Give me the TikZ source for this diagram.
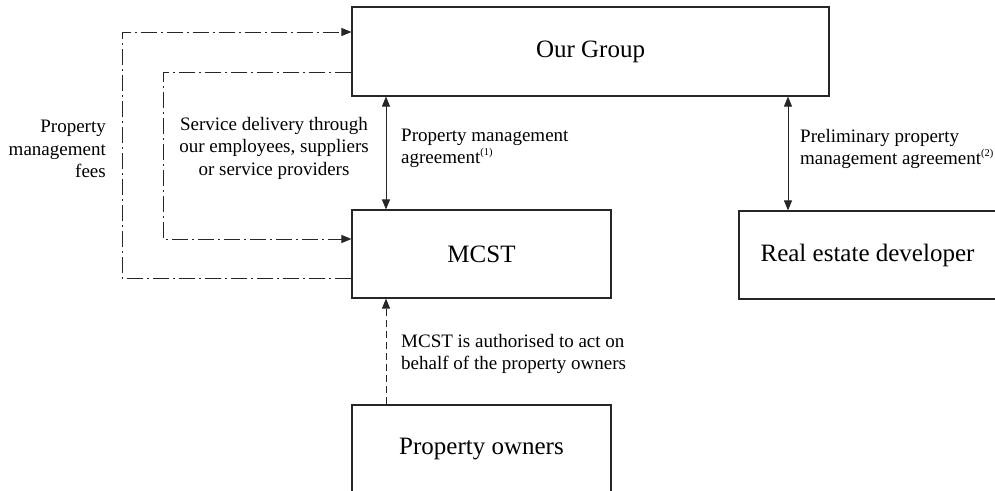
\documentclass[tikz,border=0pt]{standalone}
\usepackage{fontspec}
\setmainfont{Liberation Serif}
\usetikzlibrary{arrows.meta,calc}

\newcommand{\notemark}[1]{\raisebox{0.42em}{\fontsize{10.5}{11}\selectfont(#1)}}

\begin{document}
\begin{tikzpicture}[x=1pt,y=-1pt,
  entity/.style={draw=black!85, line width=1.1pt, inner sep=0pt,
    font=\fontsize{25}{30}\selectfont, text=black},
  lbl/.style={inner sep=0pt, font=\fontsize{19}{22.5}\selectfont, text=black},
  tip/.style={-{Triangle[length=10pt,width=8pt]}},
  tips/.style={{Triangle[length=10pt,width=8pt]}-{Triangle[length=10pt,width=8pt]}},
  link/.style={draw=black!85, line width=0.9pt},
  dashdot/.style={link, dash pattern=on 16pt off 4pt on 2pt off 4pt},
  dashline/.style={link, dash pattern=on 7pt off 4pt}]

\useasboundingbox (0,0) rectangle (995,490);
\clip (0,0) rectangle (995,490);

% boxes
\node[entity, minimum width=477pt, minimum height=89pt] (group) at (590.5,51.5) {Our Group};
\node[entity, minimum width=259pt, minimum height=88pt] (mcst) at (481.5,254) {MCST};
\node[entity, minimum width=257pt, minimum height=88pt] (dev) at (867.5,255) {Real estate developer};
\node[entity, minimum width=259pt, minimum height=88pt] (owners) at (481.5,449) {Property owners};

% columns of the vertical links
\coordinate (colA) at (386,0);
\coordinate (colB) at (788,0);

% agreements
\draw[link, tips] (group.south -| colA) -- (mcst.north -| colA);
\draw[link, tips] (group.south -| colB) -- (dev.north -| colB);

% authorisation
\draw[dashline, tip] (owners.north -| colA) -- (mcst.south -| colA);

% fee and service loops
\coordinate (feeCorner) at (122,32);
\coordinate (svcCorner) at (163,239);
\draw[dashdot, tip] ($(mcst.west)+(0,24)$) -| (feeCorner) -- (feeCorner -| group.west);
\draw[dashdot, tip] ($(group.west)+(0,20.5)$) -| (svcCorner) -- (svcCorner -| mcst.west);

% labels
\node[lbl, anchor=north east, align=right] (feeLbl) at (106,120)
  {Property\\management\\fees};
\node[lbl, anchor=north, align=center] (svcLbl) at (274,117)
  {Service delivery through\\our employees, suppliers\\or service providers};
\node[lbl, anchor=north west, align=left] (pmaLbl) at (401,128.5)
  {Property management\\agreement\notemark{1}};
\node[lbl, anchor=north west, align=left] (ppmaLbl) at (800,129)
  {Preliminary property\\management agreement\notemark{2}};
\node[lbl, anchor=north west, align=left] (authLbl) at (401,334)
  {MCST is authorised to act on\\behalf of the property owners};
\end{tikzpicture}
\end{document}
